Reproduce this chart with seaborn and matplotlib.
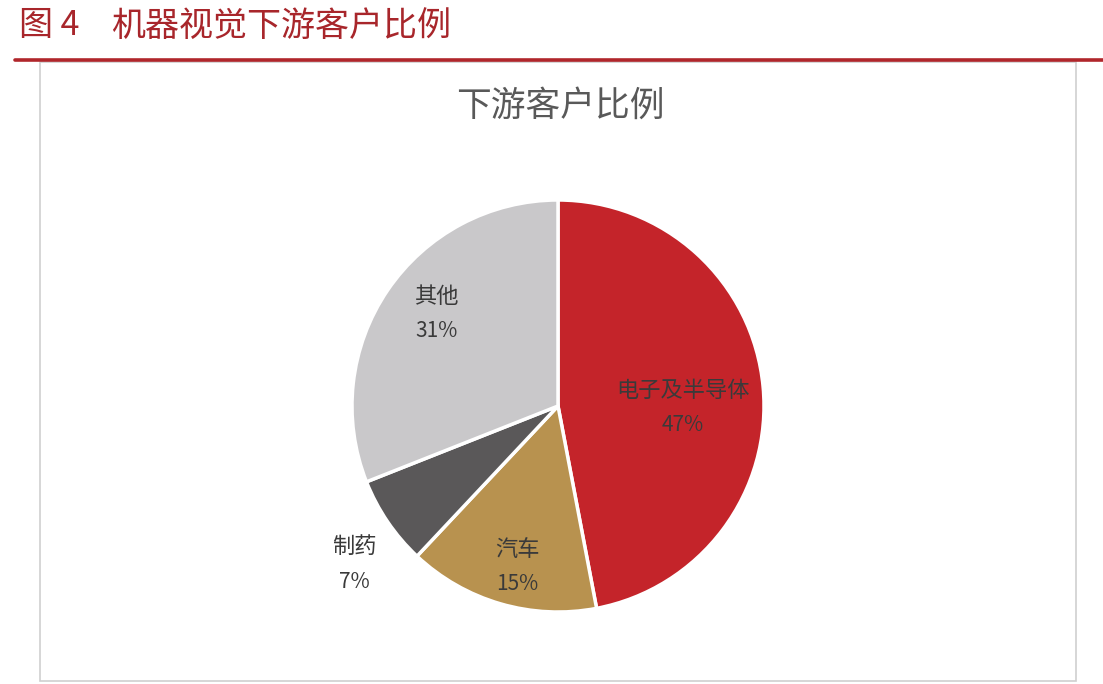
import numpy as np
import matplotlib
matplotlib.use("Agg")
import matplotlib.pyplot as plt
import seaborn as sns
from matplotlib.patches import Rectangle
from matplotlib.lines import Line2D

# ---- data ----
categories = ["电子及半导体", "汽车", "制药", "其他"]
shares = [47, 15, 7, 31]
pct_labels = ["47%", "15%", "7%", "31%"]
colors = ["#C4242A", "#B8924F", "#5A5859", "#C9C8CA"]
label_dist = [0.607, 0.806, 1.25, 0.74]
label_rot = [-6.1, 1.9, 3.7, -3.1]   # angular nudge of each label (deg)

sns.set_theme(style="white")
plt.rcParams['font.family'] = ['Noto Sans CJK SC', 'DejaVu Sans']

W, H = 1103, 684
fig = plt.figure(figsize=(W / 100, H / 100), dpi=100)
fig.patch.set_facecolor("white")

def fx(px):
    return px / W

def fy(py):
    return 1 - py / H

# header
fig.text(fx(19), fy(26), "图 4", fontsize=24.5, color="#A8262B", va="center", ha="left")
fig.text(fx(111), fy(26), "机器视觉下游客户比例", fontsize=24.5, color="#A8262B", va="center", ha="left")
fig.add_artist(Line2D([fx(15), 1.0], [fy(60), fy(60)], color="#B0262B", lw=2.6, transform=fig.transFigure))
# box
fig.add_artist(Rectangle((fx(40), fy(681)), fx(1076) - fx(40), fy(62) - fy(681),
                         transform=fig.transFigure, fill=False, edgecolor="#CFCFCF", lw=1.2))
fig.text(fx(560), fy(106), "下游客户比例", fontsize=25, color="#595959", va="center", ha="center")

# pie axes
cx, cy, r = 558, 406, 206
lim = 1.3
side = 2 * lim * r
ax = fig.add_axes([fx(cx - side / 2), fy(cy + side / 2), side / W, side / H])
wedges, _ = ax.pie(shares, colors=colors, startangle=90, counterclock=False, radius=1.0,
                   wedgeprops=dict(edgecolor="white", linewidth=2.5))
for w, cat, pct, d, rot in zip(wedges, categories, pct_labels, label_dist, label_rot):
    ang = np.deg2rad((w.theta1 + w.theta2) / 2 + rot)
    x, y = d * np.cos(ang), d * np.sin(ang)
    ax.text(x, y + 0.085, cat, ha="center", va="center", fontsize=16, color="#3A3A3A")
    ax.text(x, y - 0.085, pct, ha="center", va="center", fontsize=15, color="#3A3A3A")
ax.set_xlim(-lim, lim)
ax.set_ylim(-lim, lim)
ax.set_aspect("equal")
ax.axis("off")

fig.savefig("out.png", dpi=100)
